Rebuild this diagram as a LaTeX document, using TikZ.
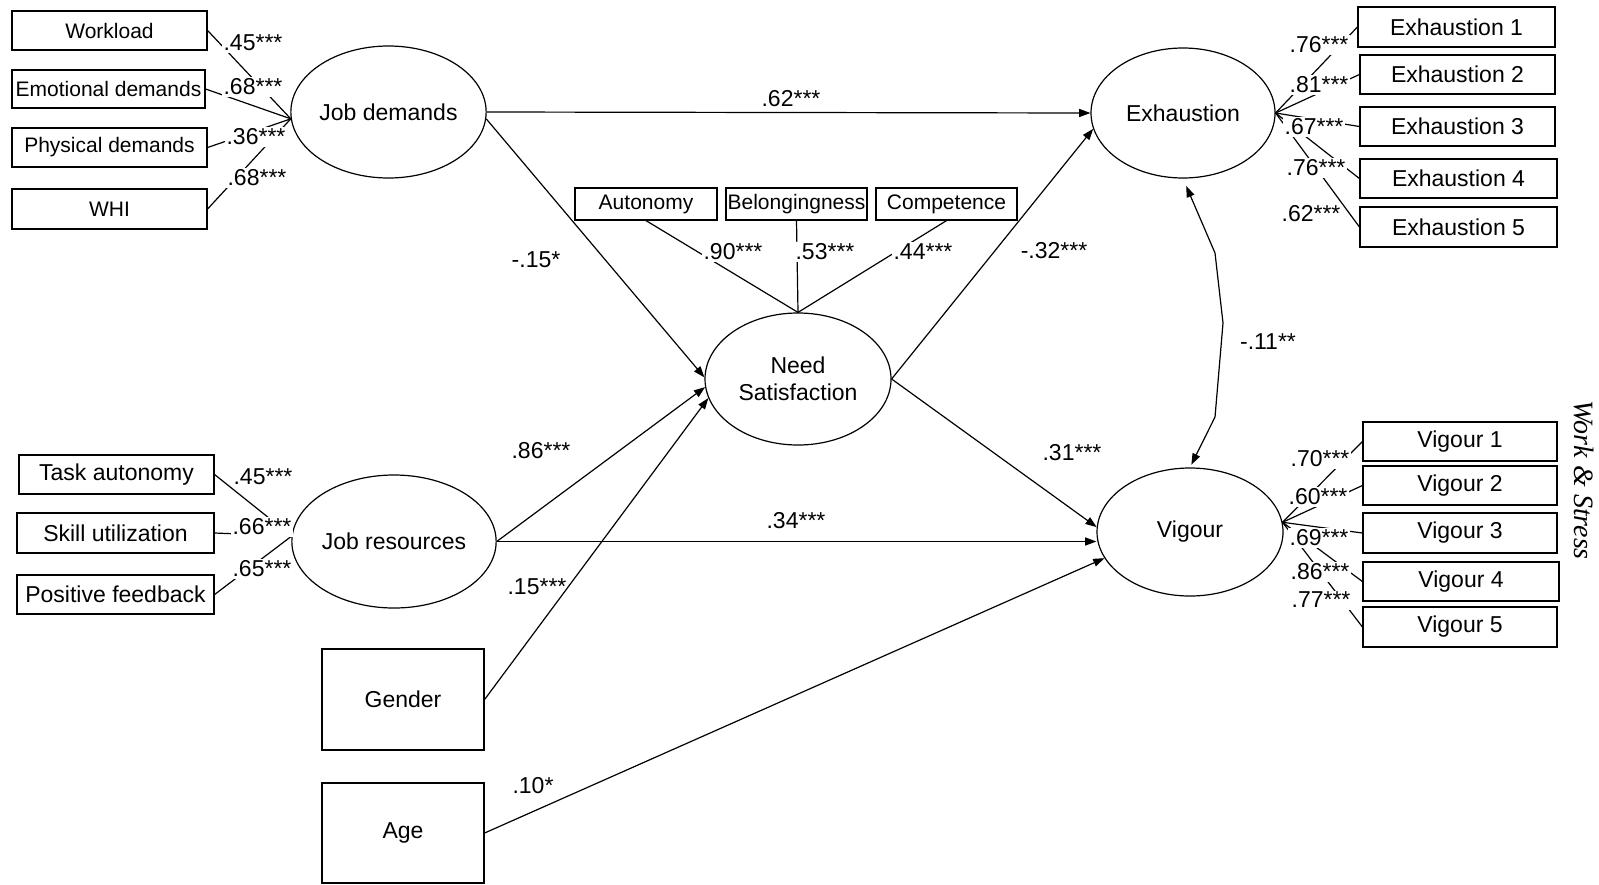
\documentclass[tikz,border=0pt]{standalone}
\usepackage{fontspec}
\setmainfont{Liberation Sans}
\newfontfamily\wsfont{Liberation Serif}
\usetikzlibrary{arrows.meta,shapes.geometric}
\begin{document}
\begin{tikzpicture}[x=0.5pt,y=-0.5pt,
  every node/.style={font=\fontsize{11.5}{13.5}\selectfont},
  box/.style={draw,line width=0.6pt,rectangle,inner sep=0pt},
  sbox/.style={box,font=\fontsize{10.5}{12.5}\selectfont},
  lat/.style={draw,line width=0.6pt,ellipse,inner sep=0pt},
  ln/.style={line width=0.6pt},
  arr/.style={line width=0.6pt,-{Triangle[length=5.6pt,width=4pt]}},
  biarr/.style={line width=0.6pt,{Triangle[length=5.6pt,width=4pt]}-{Triangle[length=5.6pt,width=4pt]}},
  lab/.style={fill=white,inner sep=0.8pt},
  plab/.style={inner sep=0.8pt}]
\useasboundingbox (0,0) rectangle (1599,884);
% indicator boxes, job demands
\node[sbox,minimum width=97.5pt,minimum height=19.5pt] (wl) at (109.5,30.5) {Workload};
\node[sbox,minimum width=96.5pt,minimum height=19pt] (ed) at (108.5,89) {Emotional demands};
\node[sbox,minimum width=97.5pt,minimum height=19.5pt] (pd) at (109.5,147.5) {Physical demands};
\node[sbox,minimum width=97.5pt,minimum height=20pt] (whi) at (109.5,209) {WHI};
% job resources indicators
\node[box,minimum width=97.5pt,minimum height=19.5pt] (ta) at (116.5,474.5) {Task autonomy};
\node[box,minimum width=98.5pt,minimum height=20pt] (su) at (115.5,533) {Skill utilization};
\node[box,minimum width=98.5pt,minimum height=19.5pt] (pf) at (115.5,594.5) {Positive feedback};
% need satisfaction indicators
\node[sbox,minimum width=71pt,minimum height=16pt] (aut) at (646,204) {Autonomy};
\node[sbox,minimum width=70.5pt,minimum height=16pt] (bel) at (796.5,204) {Belongingness};
\node[sbox,minimum width=70.5pt,minimum height=16pt] (com) at (946.5,204) {Competence};
% exhaustion indicators
\node[box,minimum width=98.5pt,minimum height=20pt] (e1) at (1456.5,27) {Exhaustion 1};
\node[box,minimum width=97.5pt,minimum height=19.5pt] (e2) at (1457.5,74.5) {Exhaustion 2};
\node[box,minimum width=97.5pt,minimum height=19.5pt] (e3) at (1457.5,126.5) {Exhaustion 3};
\node[box,minimum width=98.5pt,minimum height=19.5pt] (e4) at (1458.5,178.5) {Exhaustion 4};
\node[box,minimum width=98.5pt,minimum height=20pt] (e5) at (1458.5,227) {Exhaustion 5};
% vigour indicators
\node[box,minimum width=97pt,minimum height=19.5pt] (v1) at (1460,441.5) {Vigour 1};
\node[box,minimum width=97pt,minimum height=19.5pt] (v2) at (1460,485.5) {Vigour 2};
\node[box,minimum width=97pt,minimum height=20pt] (v3) at (1460,533) {Vigour 3};
\node[box,minimum width=98pt,minimum height=19.5pt] (v4) at (1461,581.5) {Vigour 4};
\node[box,minimum width=97pt,minimum height=20pt] (v5) at (1460,627) {Vigour 5};
% controls
\node[box,minimum width=81pt,minimum height=50.5pt] (gen) at (403,699.5) {Gender};
\node[box,minimum width=81pt,minimum height=50pt] (age) at (403,833) {Age};
% latent variables
\node[lat,minimum width=95.5pt,minimum height=66pt] (jd) at (388.5,112) {Job demands};
\node[lat,minimum width=93.5pt,minimum height=66.5pt] (jr) at (394,541.5) {Job resources};
\node[lat,minimum width=93pt,minimum height=66pt,align=center] (ns) at (798,379) {Need\\Satisfaction};
\node[lat,minimum width=92pt,minimum height=65pt] (exh) at (1183,113) {Exhaustion};
\node[lat,minimum width=93pt,minimum height=64pt] (vig) at (1190,532) {Vigour};
% measurement lines
\foreach \b in {wl,ed,pd,whi} \draw[ln] (\b.east) -- (jd.184);
\foreach \b in {ta,su,pf} \draw[ln] (\b.east) -- (jr.177);
\foreach \b in {aut,bel,com} \draw[ln] (\b.south) -- (ns.north);
\foreach \b in {e1,e2,e3,e4,e5} \draw[ln] (\b.west) -- (exh.east);
\foreach \b in {v1,v2,v3,v4,v5} \draw[ln] (\b.west) -- (vig.6);
% structural paths
\draw[arr] (jd.east) -- (exh.west);
\draw[arr] (jd.-4) -- (ns.179);
\draw[arr] (jr.east) -- (ns.185);
\draw[arr] (gen.east) -- (ns.192);
\draw[arr] (ns.east) -- (exh.190);
\draw[arr] (ns.east) -- (vig.177);
\draw[arr] (jr.east) -- (jr.east -| vig.west);
\draw[arr] (age.east) -- (vig.197);
\coordinate (b1) at (1215,253);
\coordinate (b2) at (1223,323);
\coordinate (b3) at (1215,417);
\draw[biarr,shorten <=4pt,shorten >=1.5pt] (exh.south) -- (b1) -- (b2) -- (b3) -- (vig.north);
% measurement labels
\node[lab] (l1) at (253,43) {.45***};
\node[lab] (l2) at (253,87) {.68***};
\node[lab] (l3) at (256,137) {.36***};
\node[lab] (l4) at (257,178) {.68***};
\node[lab] (l5) at (263,477) {.45***};
\node[lab] (l6) at (262,527) {.66***};
\node[lab] (l7) at (262,569) {.65***};
\node[lab] (l8) at (733,252) {.90***};
\node[lab] (l9) at (825,252) {.53***};
\node[lab] (l10) at (923,252) {.44***};
\node[lab] (l11) at (1319,45) {.76***};
\node[lab] (l12) at (1319,85) {.81***};
\node[lab] (l13) at (1314,127) {.67***};
\node[lab] (l14) at (1316,168) {.76***};
\node[lab] (l15) at (1311,214) {.62***};
\node[lab] (l16) at (1320,459) {.70***};
\node[lab] (l17) at (1318,497) {.60***};
\node[lab] (l18) at (1319,538) {.69***};
\node[lab] (l19) at (1320,572) {.86***};
\node[lab] (l20) at (1321,600) {.77***};
% structural labels
\node[plab] (p1) at (791,99) {.62***};
\node[plab] (p2) at (536,260) {-.15*};
\node[plab] (p3) at (541,451) {.86***};
\node[plab] (p4) at (537,587) {.15***};
\node[plab] (p5) at (1054,251) {-.32***};
\node[plab] (p6) at (1072,453) {.31***};
\node[plab] (p7) at (796,521) {.34***};
\node[plab] (p8) at (533,786) {.10*};
\node[plab] (p9) at (1268,342) {-.11**};
% journal mark
\node[rotate=-90,inner sep=0pt,font=\wsfont\itshape\fontsize{14}{16}\selectfont] (ws) at (1584,480) {Work \& Stress};
\end{tikzpicture}
\end{document}
